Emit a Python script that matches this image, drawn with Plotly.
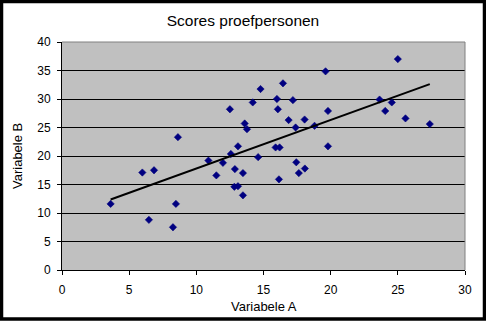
import numpy as np
import plotly.graph_objects as go

# Data
var_a = [8.63, 5.98, 6.85, 3.62, 8.48, 6.47, 8.26,
         14.78, 16.45, 14.2, 16.0, 17.19, 12.5, 16.07, 19.8, 13.6, 13.77,
         16.87, 18.06, 17.39, 18.8, 13.1, 12.57, 15.9, 16.2, 14.6, 19.8,
         10.9, 11.98, 12.87, 13.47, 11.49, 17.44, 18.08, 17.63, 16.15,
         12.83, 13.1, 13.47,
         25.0, 19.62, 23.64, 24.55, 24.06, 25.57, 27.38]
var_b = [23.3, 17.1, 17.5, 11.6, 11.6, 8.8, 7.5,
         31.75, 32.75, 29.4, 30.0, 29.8, 28.2, 28.2, 27.9, 25.7, 24.7,
         26.3, 26.4, 25.0, 25.3, 21.7, 20.35, 21.5, 21.5, 19.8, 21.7,
         19.2, 18.8, 17.7, 17.0, 16.6, 18.9, 17.8, 17.0, 15.9,
         14.6, 14.7, 13.1,
         37.0, 34.85, 29.9, 29.4, 27.9, 26.6, 25.6]
x_ticks = [0, 5, 10, 15, 20, 25, 30]
y_ticks = [0, 5, 10, 15, 20, 25, 30, 35, 40]
title_text = "Scores proefpersonen"
x_title = "Variabele A"
y_title = "Variabele B"

# Linear trendline (least squares) over the data range
slope, intercept = np.polyfit(var_a, var_b, 1)
tx = np.array([min(var_a), max(var_a)])
ty = slope * tx + intercept

W, H = 486, 321
L, R, T, B = 62, 21, 42, 51
pw, ph = W - L - R, H - T - B

def px2x(p):
    return (p - L) / pw

def py2y(p):
    return (H - B - p) / ph

fig = go.Figure()
fig.add_trace(go.Scatter(
    x=var_a, y=var_b, mode="markers",
    marker=dict(symbol="diamond", size=5.6, color="#000080",
                line=dict(color="#000080", width=0.6)),
    showlegend=False, hoverinfo="skip"))
fig.add_trace(go.Scatter(
    x=tx, y=ty, mode="lines",
    line=dict(color="black", width=2),
    showlegend=False, hoverinfo="skip"))

font_family = "Liberation Sans, Arial, sans-serif"

fig.update_layout(
    width=W, height=H,
    margin=dict(l=L, r=R, t=T, b=B, pad=0),
    paper_bgcolor="white", plot_bgcolor="#C0C0C0",
    font=dict(family=font_family, size=12, color="black"),
    title=dict(text=title_text, x=0.5, xanchor="center",
               y=1 - 21 / H, yanchor="middle", yref="container",
               font=dict(size=15.5, family=font_family, color="black")),
    xaxis=dict(range=[0, 30], tickvals=x_ticks, showgrid=False,
               zeroline=False, showline=True, linecolor="black", linewidth=1,
               ticks="outside", ticklen=4, tickcolor="black",
               tickfont=dict(size=12), ticklabelstandoff=5, fixedrange=True),
    yaxis=dict(range=[0, 40], tickvals=y_ticks, showgrid=True,
               gridcolor="black", gridwidth=1,
               zeroline=False, showline=True, linecolor="black", linewidth=1,
               ticks="outside", ticklen=4, tickcolor="black",
               tickfont=dict(size=12), ticklabelstandoff=4, fixedrange=True),
    annotations=[
        dict(text=x_title, xref="paper", yref="paper", x=0.5, y=py2y(306),
             xanchor="center", yanchor="middle", showarrow=False,
             font=dict(size=13, family=font_family, color="black")),
        dict(text=y_title, xref="paper", yref="paper", x=px2x(17), y=0.5,
             xanchor="center", yanchor="middle", showarrow=False, textangle=-90,
             font=dict(size=13, family=font_family, color="black")),
    ],
    shapes=[
        # gray plot-area border, top and right
        dict(type="line", xref="paper", yref="paper", x0=0, x1=1, y0=1, y1=1,
             line=dict(color="#808080", width=1), layer="above"),
        dict(type="line", xref="paper", yref="paper", x0=1, x1=1, y0=0, y1=1,
             line=dict(color="#808080", width=1), layer="above"),
        # black outer frame
        dict(type="rect", xref="paper", yref="paper",
             x0=px2x(1.5), x1=px2x(W - 1.5), y0=py2y(H - 2), y1=py2y(1.5),
             line=dict(color="black", width=3.5), fillcolor="rgba(0,0,0,0)",
             layer="above"),
    ],
)

fig.write_html("out.html")
